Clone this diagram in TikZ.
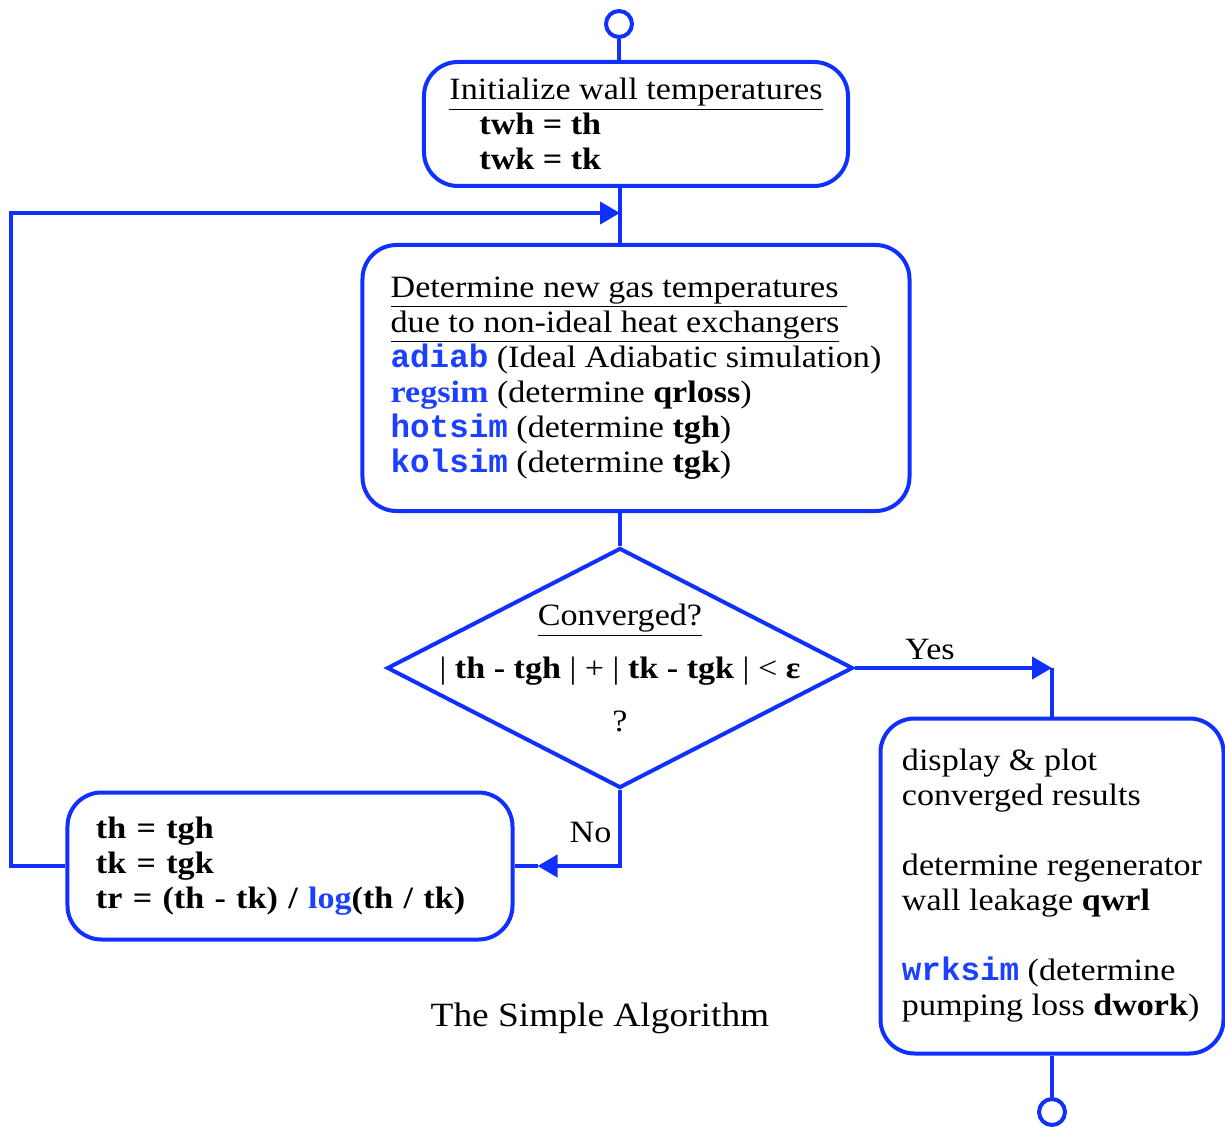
\documentclass[tikz,border=0pt]{standalone}
\usepackage{fontspec}
\setmainfont{Liberation Serif}[FakeStretch=1.1]
\setmonofont{Liberation Mono}[Scale=1.05]
\usetikzlibrary{shapes,arrows.meta}
\definecolor{flowblue}{RGB}{16,48,255}
\definecolor{codeblue}{RGB}{28,64,255}
\newcommand{\code}[1]{\textcolor{codeblue}{\texttt{\bfseries #1}}}
\newcommand{\fn}[1]{\textcolor{codeblue}{\textbf{#1}}}
\tikzstyle{block} = [rectangle, draw=flowblue, line width=2pt, rounded corners=17pt,
    align=left, inner sep=0pt]
\tikzstyle{decision} = [diamond, draw=flowblue, line width=2pt, inner sep=0pt,
    minimum width=233pt, minimum height=120pt]
\tikzstyle{terminal} = [circle, draw=flowblue, line width=2pt, inner sep=0pt, minimum size=13pt]
\tikzstyle{line} = [draw=flowblue, line width=2pt, -{Triangle[length=10pt,width=11pt]}]
\tikzstyle{wire} = [draw=flowblue, line width=2pt]

\begin{document}
\begin{tikzpicture}[x=0.5pt, y=-0.5pt, node distance=50pt, font=\fontsize{15.5}{17.5}\selectfont]
    \useasboundingbox (-619,-24) rectangle (606,1104);
    % Place nodes
    \node [terminal] (start) {};
    \node [block, below of=start, node distance=50pt, xshift=8.5pt, minimum width=212pt, minimum height=62pt] (init)
        {\underline{Initialize wall temperatures}\\ \hspace*{15pt}\textbf{twh = th}\\ \hspace*{15pt}\textbf{twk = tk}};
    \node [block, below of=init, node distance=127pt, minimum width=273.5pt, minimum height=133pt] (calc)
        {\underline{Determine new gas temperatures\ }\\
         \underline{due to non-ideal heat exchangers}\\
         \code{adiab} (Ideal Adiabatic simulation)\\
         \fn{regsim} (determine \textbf{qrloss})\\
         \code{hotsim} (determine \textbf{tgh})\\
         \code{kolsim} (determine \textbf{tgk})};
    \node [decision, below of=calc, node distance=145pt, xshift=-8pt,
        label={[align=center]center:\underline{Converged?}\\[9pt]
        | \textbf{th - tgh} | + | \textbf{tk - tgk} | < \textbf{ε}\\[9pt] ?}] (dec) {};
    \node [block, below of=dec, node distance=99pt, xshift=-165pt, minimum width=222.5pt, minimum height=73.5pt,
        text width=194pt] (upd)
        {\textbf{th = tgh}\\ \textbf{tk = tgk}\\ \textbf{tr = (th - tk) / \textcolor{codeblue}{log}(th / tk)}};
    \node [block, below of=dec, node distance=109pt, xshift=216pt, minimum width=171.5pt, minimum height=167.5pt] (out)
        {display \& plot\\ converged results\\[17.5pt]
         determine regenerator\\ wall leakage \textbf{qwrl}\\[17.5pt]
         \code{wrksim} (determine\\ pumping loss \textbf{dwork})};
    \node [terminal, below of=out, node distance=113pt] (stop) {};
    \node [below of=dec, node distance=175pt, xshift=-10pt, font=\fontsize{17}{20}\selectfont] (title) {The Simple Algorithm};
    \coordinate [below of=init, node distance=44.5pt, xshift=-8pt] (join);
    % Draw edges
    \path [wire] (start) -- (start |- init.north);
    \path [wire] (join |- init.south) -- (join |- calc.north);
    \path [line] (upd.west) -- ++(-54,0) |- (join);
    \path [wire] (dec.north |- calc.south) -- (dec.north);
    \path [line] (dec.east) -- node [above, pos=0.38] {Yes} (dec.east -| out.north);
    \path [wire] (dec.east -| out.north) -- (out.north);
    \path [line] (dec.south) |- node [left, pos=0.28] {No} ([xshift=11.5pt]upd.east);
    \path [wire] ([xshift=11.5pt]upd.east) -- (upd.east);
    \path [wire] (out.south) -- (stop);
\end{tikzpicture}
\end{document}
